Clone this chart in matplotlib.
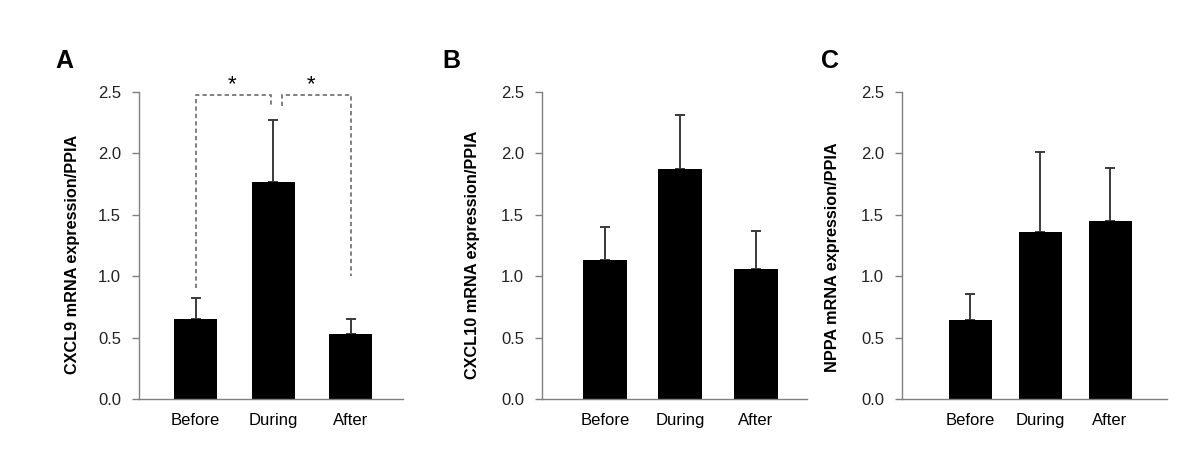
import matplotlib
matplotlib.use("Agg")
import matplotlib.pyplot as plt

plt.rcParams['font.family'] = ['Liberation Sans', 'DejaVu Sans']

categories = ["Before", "During", "After"]
yticks = [0.0, 0.5, 1.0, 1.5, 2.0, 2.5]
ytick_labels = ["0.0", "0.5", "1.0", "1.5", "2.0", "2.5"]

cxcl9_mean = [0.65, 1.77, 0.53]
cxcl9_err = [0.17, 0.50, 0.12]
cxcl10_mean = [1.13, 1.87, 1.06]
cxcl10_err = [0.27, 0.44, 0.31]
nppa_mean = [0.64, 1.36, 1.45]
nppa_err = [0.215, 0.655, 0.43]

ylabels = ["CXCL9 mRNA expression/PPIA",
           "CXCL10 mRNA expression/PPIA",
           "NPPA mRNA expression/PPIA"]
panel_letters = ["A", "B", "C"]

W, H = 1200, 473
fig = plt.figure(figsize=(12, 4.73), dpi=100)

panels = [
    dict(left=139, right=403, centers=(195.5, 272.5, 350.5), bw=43,
         mean=cxcl9_mean, err=cxcl9_err, ylab_x=73, ylab_y=254, letter_x=64),
    dict(left=542, right=807, centers=(605, 677.5, 755.5), bw=44,
         mean=cxcl10_mean, err=cxcl10_err, ylab_x=472, ylab_y=255, letter_x=451),
    dict(left=902, right=1167, centers=(970, 1042.5, 1110), bw=43,
         mean=nppa_mean, err=nppa_err, ylab_x=832, ylab_y=257, letter_x=830),
]
top_px, bot_px = 92, 399

axes = []
for i, p in enumerate(panels):
    ax = fig.add_axes([p['left'] / W, (H - bot_px) / H,
                       (p['right'] - p['left']) / W, (bot_px - top_px) / H])
    c0, c1, c2 = p['centers']
    sp = (c2 - c0) / 2.0
    ax.set_xlim((p['left'] - c0) / sp, (p['right'] - c0) / sp)
    ax.set_ylim(0, 2.5)
    xs = [0, 1, 2]
    ax.bar(xs, p['mean'], width=p['bw'] / sp, color='black', zorder=2)
    ax.errorbar(xs, p['mean'], yerr=[[0, 0, 0], p['err']], fmt='none',
                ecolor='#3a3a3a', elinewidth=1.4, capsize=3.5, capthick=1.4,
                zorder=1)
    ax.set_xticks(xs)
    ax.set_xticklabels(categories, fontsize=12)
    ax.tick_params(axis='x', length=0, pad=10, colors='black')
    ax.set_yticks(yticks)
    ax.set_yticklabels(ytick_labels, fontsize=12)
    ax.tick_params(axis='y', length=5, width=1, color='#808080', pad=8,
                   labelcolor='#222222')
    for s in ['top', 'right']:
        ax.spines[s].set_visible(False)
    for s in ['left', 'bottom']:
        ax.spines[s].set_color('#808080')
        ax.spines[s].set_linewidth(1.0)
    fig.text(p['ylab_x'] / W, (H - p['ylab_y']) / H, ylabels[i],
             rotation=90, ha='center', va='center', fontsize=11.7,
             fontweight='bold')
    fig.text(p['letter_x'] / W, (H - 61) / H, panel_letters[i], ha='center',
             va='center', fontsize=18, fontweight='bold')
    axes.append(ax)

# significance brackets on panel A
axA = axes[0]
dash = dict(color='#808080', lw=1.4, linestyle=(0, (2.2, 1.6)), clip_on=False)
axA.plot([0, 0, 0.975, 0.975], [0.9, 2.474, 2.474, 2.39], **dash)
axA.plot([1.12, 1.12, 2.0, 2.0], [2.39, 2.474, 2.474, 1.0], **dash)
axA.text(0.47, 2.56, "*", ha='center', va='center', fontsize=16,
         clip_on=False)
axA.text(1.49, 2.56, "*", ha='center', va='center', fontsize=16,
         clip_on=False)

fig.savefig("out.png", dpi=100, facecolor='white')
